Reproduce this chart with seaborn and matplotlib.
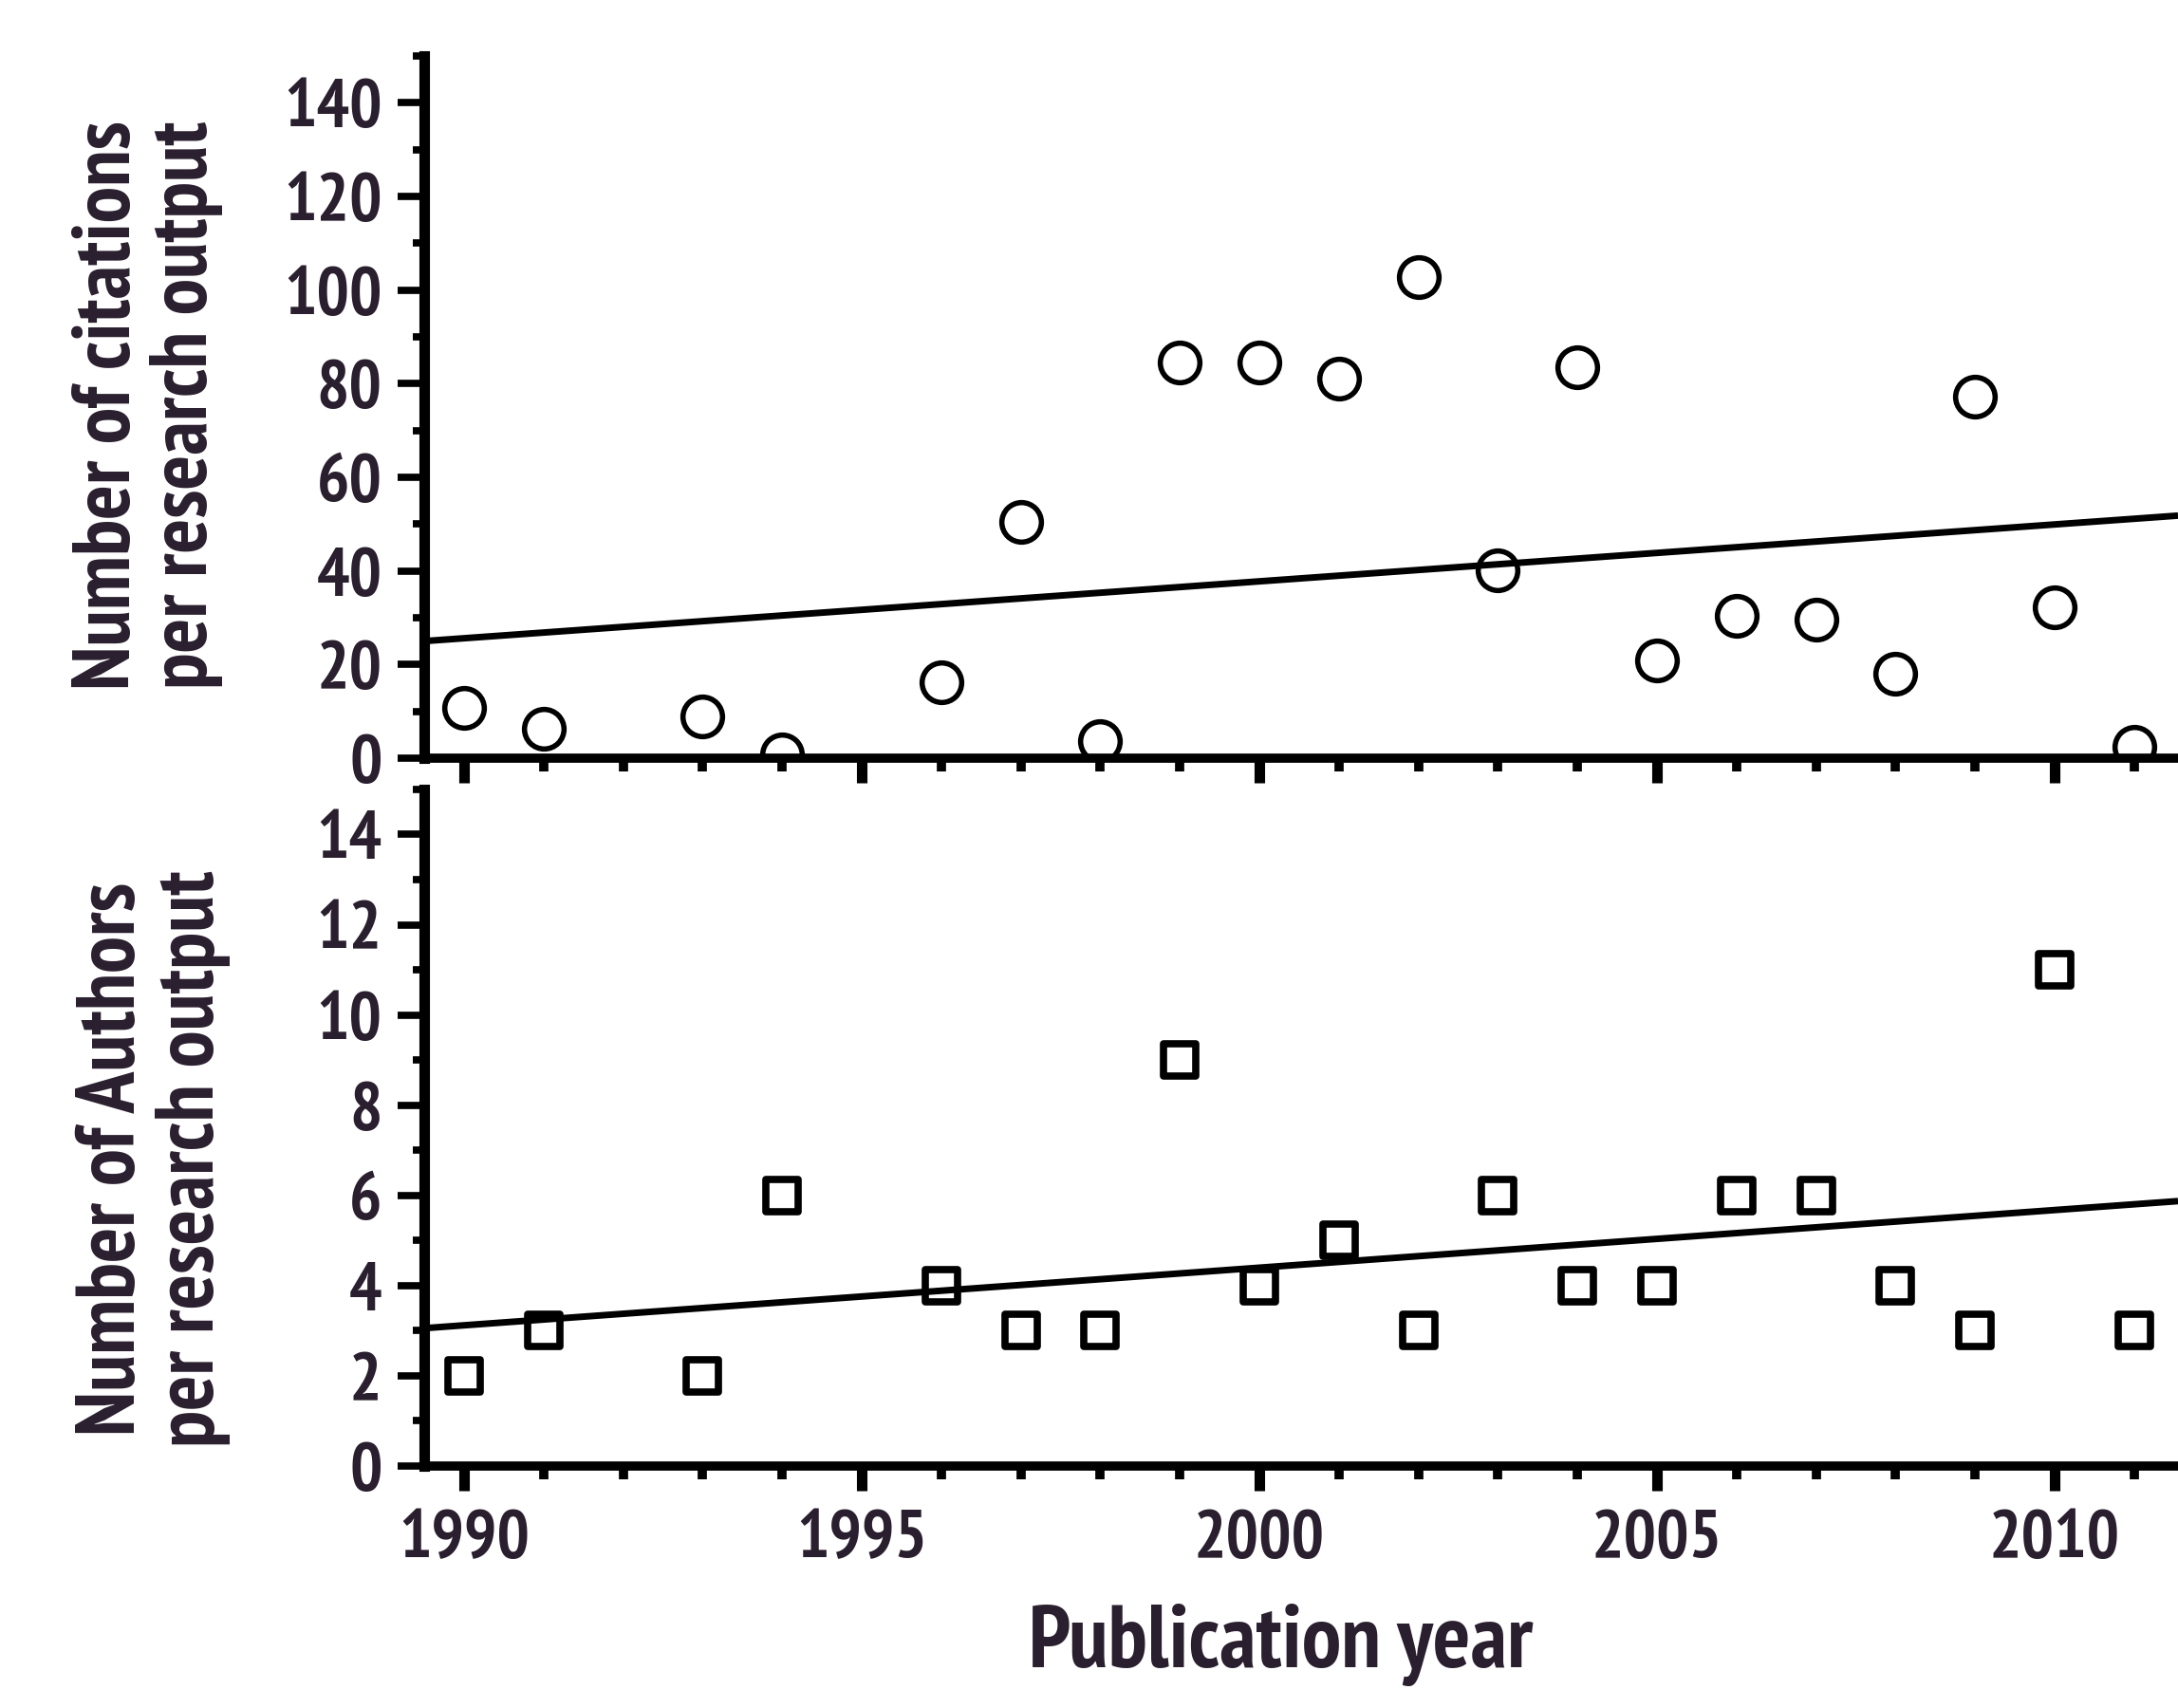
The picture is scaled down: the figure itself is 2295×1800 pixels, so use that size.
import matplotlib
matplotlib.use('Agg')
import matplotlib.pyplot as plt
import seaborn as sns
import numpy as np
import pandas as pd
from matplotlib import font_manager
from matplotlib.ticker import MultipleLocator, FixedLocator

# ---------------- data ----------------
years = [1990, 1991, 1993, 1994, 1996, 1997, 1998, 1999, 2000, 2001,
         2002, 2003, 2004, 2005, 2006, 2007, 2008, 2009, 2010, 2011]
citations = [10.8, 6.3, 9.0, 0.9, 16.3, 50.5, 3.6, 84.6, 84.6, 81.0,
             102.7, 40.1, 83.6, 20.8, 30.4, 29.5, 18.0, 77.3, 32.2, 2.5]
authors = [2, 3, 2, 6, 4, 3, 3, 9, 4, 5,
           3, 6, 4, 4, 6, 6, 4, 3, 11, 3]
year_ticks = [1990, 1995, 2000, 2005, 2010]
citation_ticks = [0, 20, 40, 60, 80, 100, 120, 140]
author_ticks = [0, 2, 4, 6, 8, 10, 12, 14]

df = pd.DataFrame({"year": years, "citations": citations, "authors": authors})

# ---------------- style ----------------
sns.set_theme(style="ticks")
bold_fonts = {f.name for f in font_manager.fontManager.ttflist
              if (f.weight if isinstance(f.weight, int) else 400) >= 700 or f.weight == "bold"}
main_font = "Liberation Sans"
for cand in ["PT Sans Narrow", "Roboto Condensed", "Fira Sans Condensed",
             "Barlow Semi Condensed", "IBM Plex Sans Condensed", "Liberation Sans"]:
    if cand in bold_fonts:
        main_font = cand
        break
plt.rcParams["font.family"] = [main_font, "DejaVu Sans"]
plt.rcParams["font.weight"] = "bold"
TXT = "#2a1f2e"

fig = plt.figure(figsize=(22.95, 18), dpi=100)
ax1 = fig.add_axes([0.1948, 0.5561, 0.8052, 0.4111])
ax2 = fig.add_axes([0.1948, 0.1417, 0.8052, 0.3961])

XLIM = (1989.5, 2011.55)
for ax in (ax1, ax2):
    ax.set_xlim(*XLIM)

sns.regplot(data=df, x="year", y="citations", ax=ax1, ci=None, truncate=False,
            marker="o", color="black",
            scatter_kws={"s": 30 ** 2, "facecolors": "white", "edgecolors": "black",
                         "linewidths": 4, "alpha": 1},
            line_kws={"linewidth": 5, "solid_capstyle": "butt"})
sns.regplot(data=df, x="year", y="authors", ax=ax2, ci=None, truncate=False,
            marker="s", color="black",
            scatter_kws={"s": 25 ** 2, "facecolors": "white", "edgecolors": "black",
                         "linewidths": 5.5, "alpha": 1},
            line_kws={"linewidth": 5, "solid_capstyle": "butt"})

ax1.set_ylim(0, 150)
ax2.set_ylim(0, 15)
ax1.yaxis.set_major_locator(FixedLocator(citation_ticks))
ax1.yaxis.set_minor_locator(MultipleLocator(10))
ax2.yaxis.set_major_locator(FixedLocator(author_ticks))
ax2.yaxis.set_minor_locator(MultipleLocator(1))

for ax in (ax1, ax2):
    ax.set_xlim(*XLIM)
    ax.xaxis.set_major_locator(FixedLocator(year_ticks))
    ax.xaxis.set_minor_locator(MultipleLocator(1))
    ax.set_xlabel("")
    ax.set_ylabel("")
    ax.spines["top"].set_visible(False)
    ax.spines["right"].set_visible(False)
    ax.spines["left"].set_linewidth(8)
    ax.spines["bottom"].set_linewidth(7)
    ax.spines["left"].set_color("black")
    ax.spines["bottom"].set_color("black")
    ax.tick_params(axis="y", which="major", direction="out", length=20, width=5.5,
                   labelsize=52, pad=12, colors="black", labelcolor=TXT)
    ax.tick_params(axis="y", which="minor", direction="out", length=9, width=5.5,
                   colors="black")
    ax.tick_params(axis="x", which="major", direction="out", length=19, width=8,
                   labelsize=52, pad=14, colors="black", labelcolor=TXT)
    ax.tick_params(axis="x", which="minor", direction="out", length=10, width=7,
                   colors="black")
    ax.set_facecolor("white")

ax1.tick_params(axis="x", which="both", labelbottom=False)
for lab in ax1.get_yticklabels() + ax2.get_yticklabels() + ax2.get_xticklabels():
    lab.set_fontweight("bold")

fig.text(156 / 2295, 0.763, "Number of citations\nper research output", rotation=90,
         ha="center", va="center", fontsize=62, fontweight="bold", color=TXT,
         linespacing=1.08)
fig.text(162 / 2295, 0.3217, "Number of Authors\nper research output", rotation=90,
         ha="center", va="center", fontsize=63, fontweight="bold", color=TXT,
         linespacing=1.08)
fig.text(1350 / 2295, 0.024, "Publication year", ha="center", va="baseline",
         fontsize=67, fontweight="bold", color=TXT)

fig.savefig("out.png", dpi=100, facecolor="white")
